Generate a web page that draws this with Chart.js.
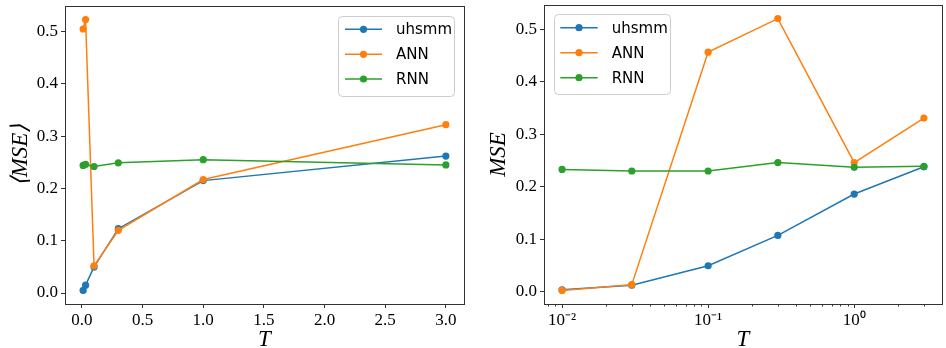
<!DOCTYPE html>
<html><head><meta charset="utf-8">
<script src="https://cdn.jsdelivr.net/npm/chart.js@4/dist/chart.umd.min.js"></script>
<style>
html,body{margin:0;padding:0;background:#fff;width:946px;height:348px;overflow:hidden}
#c1{position:absolute;left:0;top:0}
#c2{position:absolute;left:476px;top:0}
</style></head><body>
<canvas id="c1" width="476" height="348"></canvas>
<canvas id="c2" width="470" height="348"></canvas>
<script>
// ---- data ----
const T = [0.01, 0.03, 0.1, 0.3, 1, 3];
const seriesNames = ['uhsmm', 'ANN', 'RNN'];
const leftUhsmm = [0.005, 0.015, 0.050, 0.123, 0.215, 0.262];
const leftANN   = [0.505, 0.523, 0.052, 0.120, 0.217, 0.322];
const leftRNN   = [0.244, 0.246, 0.242, 0.249, 0.255, 0.245];
const rightUhsmm = [0.003, 0.012, 0.049, 0.107, 0.186, 0.238];
const rightANN   = [0.002, 0.013, 0.457, 0.521, 0.246, 0.331];
const rightRNN   = [0.233, 0.230, 0.230, 0.246, 0.237, 0.239];
const yTicks = [0, 0.1, 0.2, 0.3, 0.4, 0.5];
const xTicksLinear = [0, 0.5, 1.0, 1.5, 2.0, 2.5, 3.0];
const xTicksLog = [0.01, 0.1, 1];
const xTickLabelsLog = ['10\u207B\u00B2', '10\u207B\u00B9', '10\u2070'];
const xMinorLog = [0.008, 0.009, 0.02, 0.03, 0.04, 0.05, 0.06, 0.07, 0.08, 0.09,
                   0.2, 0.3, 0.4, 0.5, 0.6, 0.7, 0.8, 0.9, 2, 3];

const colors = ['#1f77b4', '#ff7f0e', '#2ca02c'];
Chart.defaults.color = '#000';

function makeDatasets(arrs) {
  return arrs.map((vals, i) => ({
    label: seriesNames[i],
    data: T.map((t, j) => ({x: t, y: vals[j]})),
    borderColor: colors[i],
    backgroundColor: colors[i],
    pointBackgroundColor: colors[i],
    pointBorderWidth: 0,
    pointRadius: 3.6,
    borderWidth: 1.5,
    tension: 0,
    order: 3 - i,
    clip: false
  }));
}

const tickFont = {family: 'Liberation Serif', size: 17};
const titleFont = {family: 'Liberation Serif', style: 'italic', size: 23, lineHeight: 0.7};

const framePlugin = {
  id: 'frame',
  afterDraw(chart, args, opts) {
    const {ctx, chartArea: a} = chart;
    ctx.save();
    ctx.strokeStyle = '#333';
    ctx.lineWidth = 1;
    ctx.strokeRect(Math.round(a.left) + 0.5, Math.round(a.top) + 0.5,
                   Math.round(a.right - a.left), Math.round(a.bottom - a.top));
    // minor ticks
    if (opts.minor) {
      const xs = chart.scales.x;
      ctx.beginPath();
      opts.minor.forEach(v => {
        const px = Math.round(xs.getPixelForValue(v)) + 0.5;
        ctx.moveTo(px, a.bottom);
        ctx.lineTo(px, a.bottom + 2.5);
      });
      ctx.stroke();
    }
    // legend
    const L = opts.legend;
    ctx.fillStyle = 'rgba(255,255,255,0.8)';
    ctx.strokeStyle = '#cccccc';
    ctx.beginPath();
    ctx.roundRect(L.x + 0.5, L.y + 0.5, L.w, L.h, 4);
    ctx.fill();
    ctx.stroke();
    ctx.font = '15px "DejaVu Sans"';
    ctx.textBaseline = 'middle';
    chart.data.datasets.forEach((ds, i) => {
      const y = L.rows[i];
      ctx.strokeStyle = ds.borderColor;
      ctx.lineWidth = 1.5;
      ctx.beginPath();
      ctx.moveTo(L.x1, y); ctx.lineTo(L.x2, y); ctx.stroke();
      ctx.fillStyle = ds.borderColor;
      ctx.beginPath();
      ctx.arc((L.x1 + L.x2) / 2, y, 3.6, 0, Math.PI * 2);
      ctx.fill();
      ctx.fillStyle = '#000';
      ctx.fillText(ds.label, L.tx, y + 1);
    });
    ctx.restore();
  }
};

function axisCommon() {
  return {
    grid: {drawOnChartArea: false, drawTicks: true, tickLength: 4, tickColor: '#333', tickWidth: 1},
    border: {display: false},
  };
}

function fitX(s) { s.height = 44; s.paddingLeft = 0; s.paddingRight = 0; }
function fitY(w) { return s => { s.width = w; s.paddingTop = 0; s.paddingBottom = 0; }; }

function makeChart(id, arrs, xcfg, ycfg, pad, legend, minor) {
  return new Chart(document.getElementById(id), {
    type: 'line',
    data: {datasets: makeDatasets(arrs)},
    options: {
      responsive: false, animation: false, devicePixelRatio: 1,
      layout: {padding: pad},
      plugins: {legend: {display: false}, tooltip: {enabled: false},
                frame: {legend: legend, minor: minor}},
      scales: {x: xcfg, y: ycfg}
    },
    plugins: [framePlugin]
  });
}

// Left chart
makeChart('c1', [leftUhsmm, leftANN, leftRNN],
  Object.assign(axisCommon(), {
    type: 'linear', min: -0.1395, max: 3.1495,
    afterBuildTicks: s => { s.ticks = xTicksLinear.map(v => ({value: v})); },
    afterFit: fitX,
    ticks: {font: tickFont, padding: 2, maxRotation: 0, autoSkip: false, callback: v => v.toFixed(1)},
    title: {display: true, text: 'T', font: titleFont, padding: 0}
  }),
  Object.assign(axisCommon(), {
    type: 'linear', min: -0.021, max: 0.549,
    afterBuildTicks: s => { s.ticks = yTicks.map(v => ({value: v})); },
    afterFit: fitY(65),
    ticks: {font: tickFont, padding: 3, autoSkip: false, callback: v => v.toFixed(1)},
    title: {display: true, text: '\u27E8MSE\u27E9', font: titleFont, padding: {top: 13}}
  }),
  {top: 6, right: 12, left: 0, bottom: 0},
  {x: 338, y: 16, w: 116, h: 80, x1: 345, x2: 382, tx: 396, rows: [29.3, 54.3, 79]},
  null
);

// Right chart
makeChart('c2', [rightUhsmm, rightANN, rightRNN],
  Object.assign(axisCommon(), {
    type: 'logarithmic', min: 0.00752, max: 3.99,
    afterBuildTicks: s => { s.ticks = xTicksLog.map(v => ({value: v})); },
    afterFit: fitX,
    ticks: {font: tickFont, padding: 2, maxRotation: 0, autoSkip: false,
            callback: v => xTickLabelsLog[xTicksLog.indexOf(v)] ?? ''},
    title: {display: true, text: 'T', font: titleFont, padding: 0}
  }),
  Object.assign(axisCommon(), {
    type: 'linear', min: -0.024, max: 0.547,
    afterBuildTicks: s => { s.ticks = yTicks.map(v => ({value: v})); },
    afterFit: fitY(68),
    ticks: {font: tickFont, padding: 3, autoSkip: false, callback: v => v.toFixed(1)},
    title: {display: true, text: 'MSE', font: titleFont, padding: {top: 15}}
  }),
  {top: 5, right: 1, left: 0, bottom: 0},
  {x: 78, y: 14, w: 116, h: 80, x1: 84.3, x2: 121.7, tx: 135.7, rows: [27.7, 52.7, 77.7]},
  xMinorLog
);
</script>
</body></html>
